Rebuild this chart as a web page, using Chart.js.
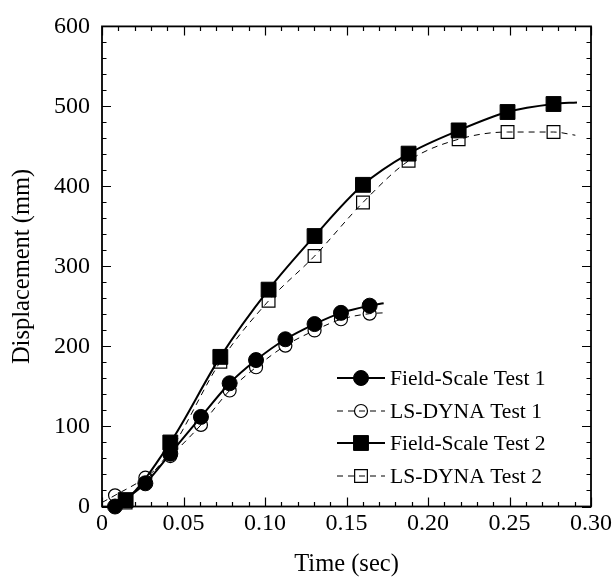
<!DOCTYPE html>
<html>
<head>
<meta charset="utf-8">
<script src="https://cdn.jsdelivr.net/npm/chart.js@4.4.1/dist/chart.umd.min.js"></script>
<style>
  html, body { margin: 0; padding: 0; background: #fff; }
</style>
</head>
<body>
<canvas id="grafica" width="615" height="581"></canvas>
<script>
// Series: tiempo (s) y desplazamiento (mm)
const tiempoFS1 = [0.008, 0.0266, 0.0419, 0.0607, 0.0783, 0.0945, 0.1125, 0.1304, 0.1466, 0.1642, 0.1728];
const despFS1 = [0, 29, 66, 112, 154, 183, 209, 228, 242, 251, 254];

const tiempoLS1 = [0, 0.008, 0.0266, 0.0419, 0.0607, 0.0783, 0.0945, 0.1125, 0.1304, 0.1466, 0.1642, 0.1728];
const despLS1 = [5, 14, 36, 63, 102, 145, 174, 201, 220, 234, 241, 242];

const tiempoFS2 = [0.004, 0.0145, 0.0419, 0.0726, 0.1022, 0.1304, 0.1601, 0.1881, 0.2188, 0.2488, 0.277, 0.2914];
const despFS2 = [0, 8, 80, 187, 271, 338, 402, 441, 470, 493, 503, 505];

const tiempoLS2 = [0.0145, 0.0419, 0.0726, 0.1022, 0.1304, 0.1601, 0.1881, 0.2188, 0.2488, 0.277, 0.2904];
const despLS2 = [5, 70, 181, 257, 313, 380, 432, 459, 468, 468, 464];

const etiquetas = ["Field-Scale Test 1", "LS-DYNA Test 1", "Field-Scale Test 2", "LS-DYNA Test 2"];

// puntos de la traza sin marcador (extremos de la curva)
const sinMarcaFS1 = [10];
const sinMarcaLS1 = [0, 11];
const sinMarcaFS2 = [0, 11];
const sinMarcaLS2 = [10];

const FUENTE = '"Liberation Serif", "Times New Roman", serif';

function puntos(t, d) {
  return t.map((x, i) => ({ x: x, y: d[i] }));
}

function serie(label, data, ocultos, relleno, estilo, radio, orden) {
  return {
    label: label,
    data: data,
    borderColor: "#000",
    borderWidth: relleno ? 2 : 1,
    borderDash: relleno ? [] : [6, 5],
    backgroundColor: relleno ? "#000" : "rgba(0,0,0,0)",
    pointBackgroundColor: relleno ? "#000" : "rgba(0,0,0,0)",
    pointBorderColor: "#000",
    pointBorderWidth: relleno ? 1 : 1.2,
    pointStyle: estilo,
    pointRadius: (ctx) => (ocultos.includes(ctx.dataIndex) ? 0 : radio),
    pointHoverRadius: (ctx) => (ocultos.includes(ctx.dataIndex) ? 0 : radio),
    cubicInterpolationMode: "monotone",
    fill: false,
    clip: false,
    order: orden,
  };
}

// Marco y marcas de los ejes hacia dentro
const marcoEjes = {
  id: "marcoEjes",
  beforeDatasetsDraw(chart) {
    const { ctx, chartArea } = chart;
    const xs = chart.scales.x;
    const ys = chart.scales.y;
    ctx.save();
    ctx.strokeStyle = "#000";
    ctx.lineWidth = 1.2;
    ctx.beginPath();
    for (let k = 0; k <= 30; k++) {
      const px = Math.round(xs.getPixelForValue(k / 100)) + 0.5;
      const len = k % 5 === 0 ? 9 : 4.5;
      ctx.moveTo(px, chartArea.bottom);
      ctx.lineTo(px, chartArea.bottom - len);
      ctx.moveTo(px, chartArea.top);
      ctx.lineTo(px, chartArea.top + len);
    }
    for (let k = 0; k <= 30; k++) {
      const py = Math.round(ys.getPixelForValue(k * 20)) + 0.5;
      const len = k % 5 === 0 ? 9 : 4.5;
      ctx.moveTo(chartArea.left, py);
      ctx.lineTo(chartArea.left + len, py);
      ctx.moveTo(chartArea.right, py);
      ctx.lineTo(chartArea.right - len, py);
    }
    ctx.stroke();
    ctx.lineWidth = 1.8;
    ctx.strokeRect(chartArea.left, chartArea.top, chartArea.right - chartArea.left, chartArea.bottom - chartArea.top);
    ctx.restore();
  },
};

function dibujarMarca(ctx, ds, x, y) {
  const r = typeof ds.pointRadius === "function" ? ds.pointRadius({ dataIndex: -1 }) : ds.pointRadius;
  ctx.save();
  ctx.setLineDash([]);
  ctx.lineWidth = ds.pointBorderWidth;
  ctx.strokeStyle = ds.pointBorderColor;
  ctx.fillStyle = ds.pointBackgroundColor;
  ctx.beginPath();
  if (ds.pointStyle === "circle") {
    ctx.arc(x, y, r, 0, Math.PI * 2);
  } else {
    const s = Math.SQRT1_2 * r;
    ctx.rect(x - s, y - s, 2 * s, 2 * s);
  }
  ctx.fill();
  ctx.stroke();
  ctx.restore();
}

// Leyenda con muestra de línea y marcador
const leyenda = {
  id: "leyenda",
  afterDraw(chart) {
    const { ctx, chartArea } = chart;
    const x0 = chartArea.right - 254;
    const x1 = x0 + 48;
    const filas = [378, 411, 443, 476];
    chart.data.datasets.forEach((ds, i) => {
      const y = filas[i];
      ctx.save();
      ctx.strokeStyle = "#000";
      ctx.lineWidth = ds.borderWidth;
      ctx.setLineDash(ds.borderDash);
      ctx.beginPath();
      ctx.moveTo(x0, y);
      ctx.lineTo(x1, y);
      ctx.stroke();
      ctx.restore();
      dibujarMarca(ctx, ds, (x0 + x1) / 2, y);
      ctx.save();
      ctx.fillStyle = "#000";
      ctx.font = "21.6px " + FUENTE;
      ctx.textBaseline = "middle";
      ctx.textAlign = "left";
      ctx.fillText(ds.label, x1 + 5, y + 1);
      ctx.restore();
    });
  },
};

const datos = {
  datasets: [
    serie(etiquetas[0], puntos(tiempoFS1, despFS1), sinMarcaFS1, true, "circle", 7.5, 0),
    serie(etiquetas[1], puntos(tiempoLS1, despLS1), sinMarcaLS1, false, "circle", 6.5, 1),
    serie(etiquetas[2], puntos(tiempoFS2, despFS2), sinMarcaFS2, true, "rect", 10.5, 0),
    serie(etiquetas[3], puntos(tiempoLS2, despLS2), sinMarcaLS2, false, "rect", 9, 1),
  ],
};

new Chart(document.getElementById("grafica"), {
  type: "line",
  data: datos,
  plugins: [marcoEjes, leyenda],
  options: {
    responsive: false,
    animation: false,
    devicePixelRatio: 1,
    layout: { padding: { top: 16, right: 24, left: 0, bottom: 0 } },
    scales: {
      x: {
        type: "linear",
        min: 0,
        max: 0.3,
        grid: { display: false, drawTicks: false },
        border: { display: false },
        afterFit: (scale) => { scale.height = 74.5; },
        ticks: {
          stepSize: 0.05,
          padding: 3,
          color: "#000",
          font: { family: FUENTE, size: 24 },
          maxRotation: 0,
          callback: (v) => (v === 0 ? "0" : Number(v).toFixed(2)),
        },
        title: {
          display: true,
          text: "Time (sec)",
          color: "#000",
          font: { family: FUENTE, size: 24.5 },
          padding: { top: 0, bottom: 2 },
        },
      },
      y: {
        min: 0,
        max: 600,
        grid: { display: false, drawTicks: false },
        border: { display: false },
        afterFit: (scale) => { scale.width = 102; },
        ticks: {
          stepSize: 100,
          padding: 12,
          color: "#000",
          font: { family: FUENTE, size: 24 },
        },
        title: {
          display: true,
          text: "Displacement (mm)",
          color: "#000",
          font: { family: FUENTE, size: 24.5 },
          padding: { top: 8, bottom: 0 },
        },
      },
    },
    plugins: {
      legend: { display: false },
      tooltip: { enabled: false },
    },
  },
});
</script>
</body>
</html>
